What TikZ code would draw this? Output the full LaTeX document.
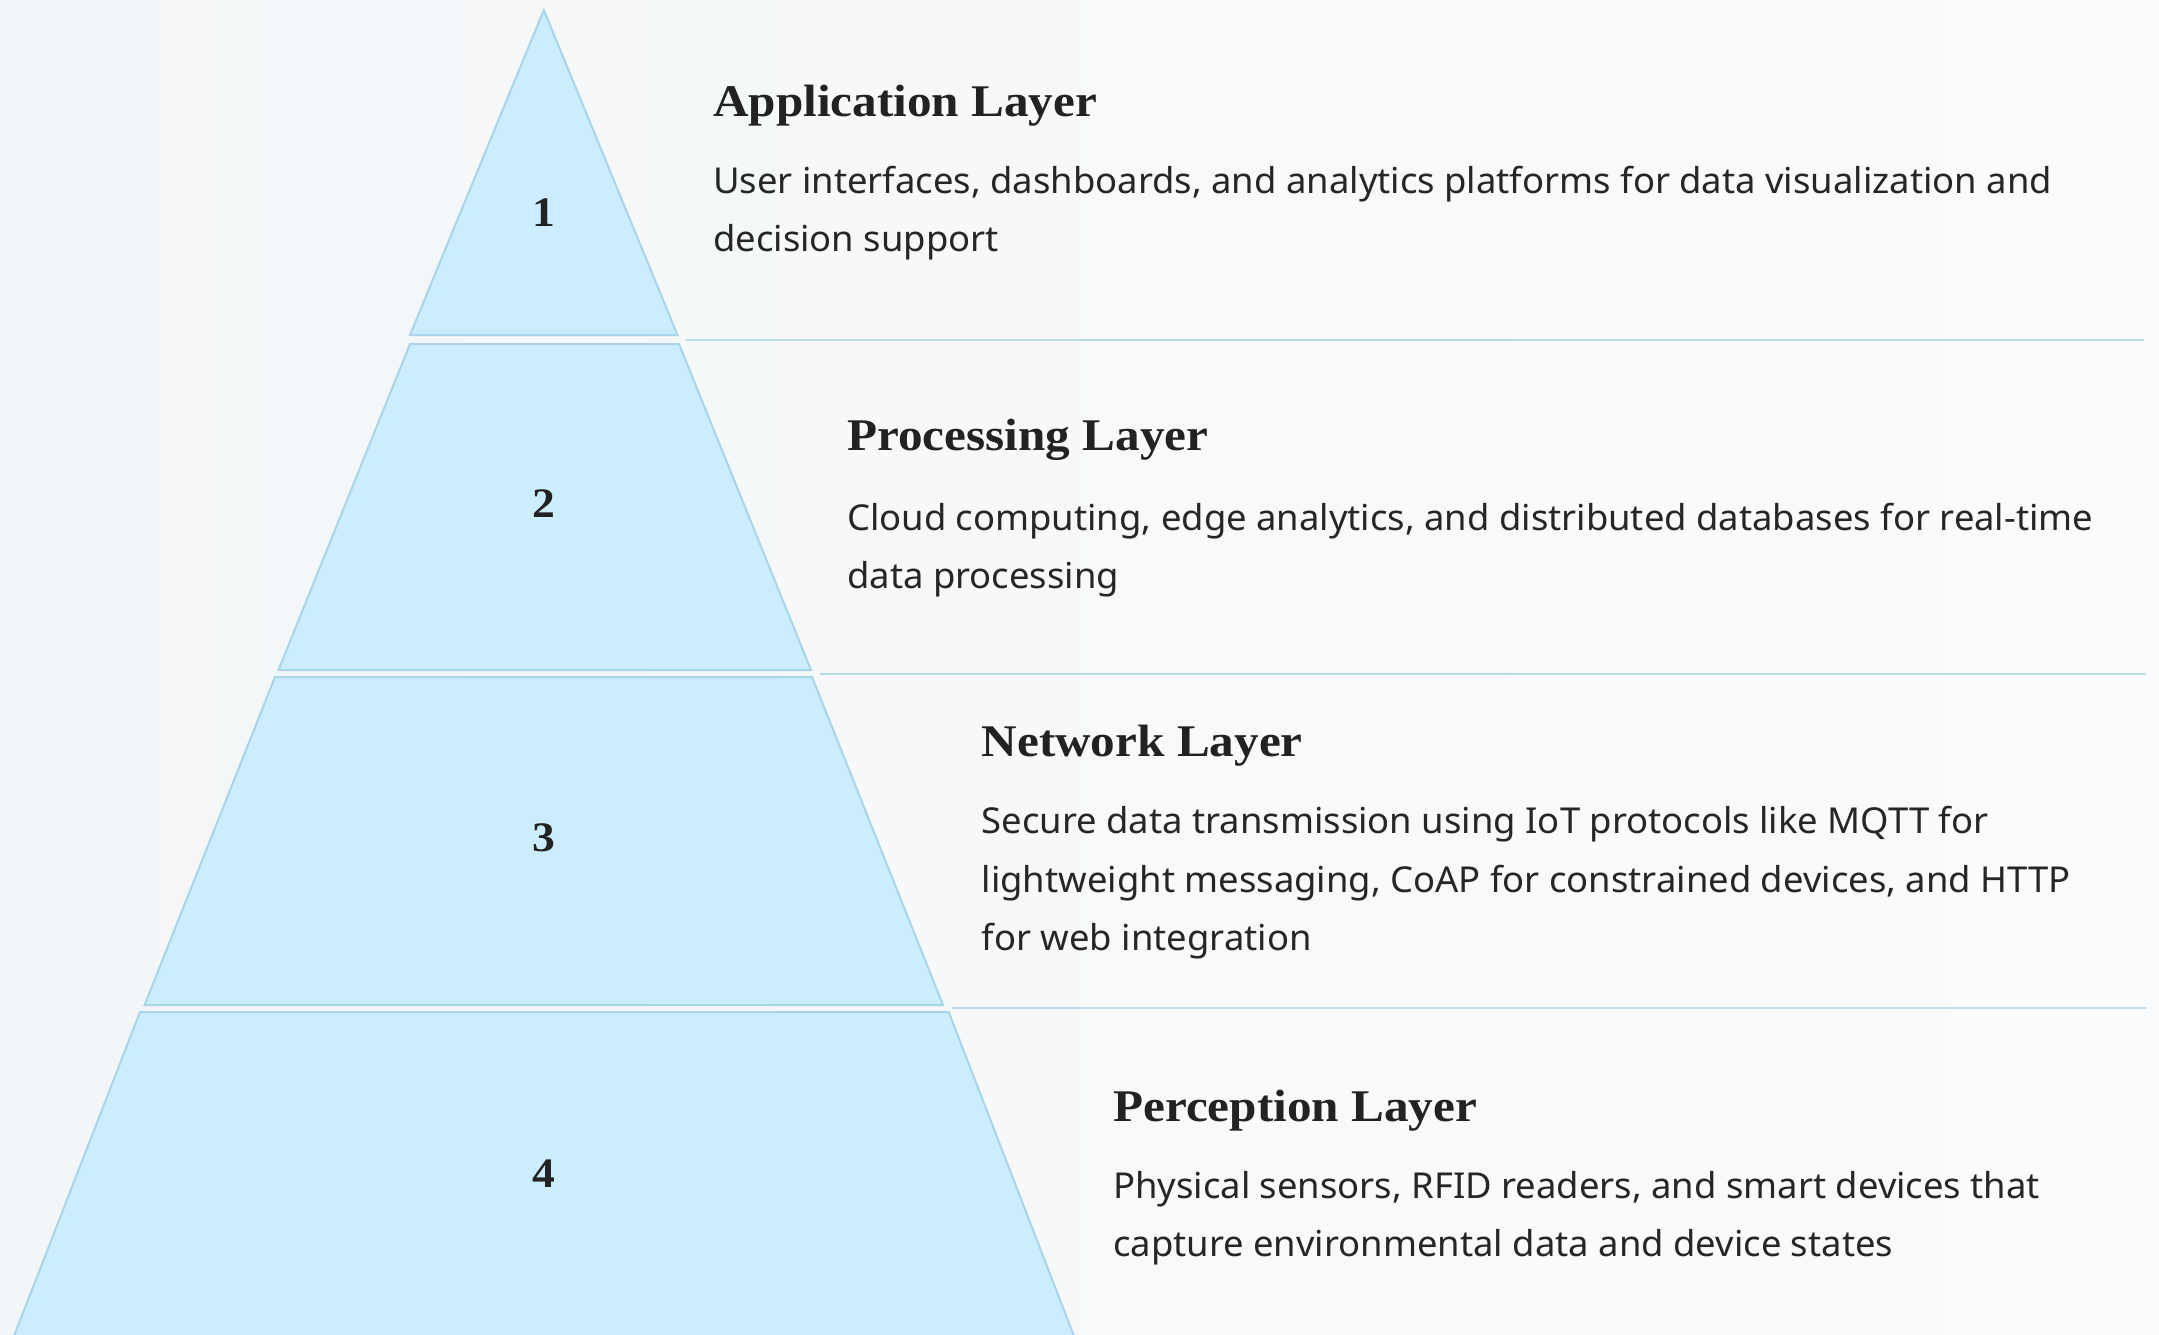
\documentclass[tikz,border=0pt]{standalone}
\usepackage{fontspec}
\newfontfamily\titlefont[FakeStretch=1.086]{Liberation Serif}
\newfontfamily\bodyfont[FakeStretch=1.02]{Noto Sans}
\definecolor{bgl}{HTML}{F3F6F8}
\definecolor{bgr}{HTML}{FAFBFC}
\definecolor{layerfill}{HTML}{CCEDFD}
\definecolor{layerdraw}{HTML}{A9D5EA}
\definecolor{sepcol}{HTML}{BADBEC}
\definecolor{inkdark}{HTML}{222222}
\definecolor{inkbody}{HTML}{262626}
\tikzset{
  layer/.style={fill=layerfill, draw=layerdraw, line width=2pt, line join=miter},
  sepline/.style={draw=sepcol, line width=2pt},
  num/.style={inner sep=0pt, anchor=base, text=inkdark, font=\titlefont\bfseries\fontsize{42}{46}\selectfont},
  ttl/.style={inner sep=0pt, anchor=base west, text=inkdark, font=\titlefont\bfseries\fontsize{45.3}{50}\selectfont},
  body/.style={inner sep=0pt, anchor=base west, text=inkbody, font=\bodyfont\fontsize{35.7}{40}\selectfont}
}
\begin{document}
\begin{tikzpicture}[x=1pt, y=-1pt]
\useasboundingbox (0,0) rectangle (2159,1334);
\fill[left color=bgl, right color=bgr] (0,0) rectangle (2159,1334);
% pyramid layers
\draw[layer] (543.8,10) -- (677.5,335) -- (410,335) -- cycle;
\draw[layer] (410,344) -- (679,344) -- (811,670) -- (278.5,670) -- cycle;
\draw[layer] (275,677) -- (812,677) -- (943,1005) -- (144.6,1005) -- cycle;
\draw[layer] (140,1012) -- (948.7,1012) -- (1074,1336) -- (14,1336) -- cycle;
% numbers
\node[num] (n1) at (544,226.7) {1};
\node[num] (n2) at (544,517) {2};
\node[num] (n3) at (544,851.5) {3};
\node[num] (n4) at (544,1187.5) {4};
% separators
\coordinate (s1a) at (686,340);  \coordinate (s1b) at (2144,340);
\coordinate (s2a) at (820,674);  \coordinate (s2b) at (2146,674);
\coordinate (s3a) at (952,1008); \coordinate (s3b) at (2146,1008);
\draw[sepline] (s1a) -- (s1b);
\draw[sepline] (s2a) -- (s2b);
\draw[sepline] (s3a) -- (s3b);
% layer 1
\node[ttl] (t1) at (713,116.7) {Application Layer};
\node[body] (b1a) at (713,193) {User interfaces, dashboards, and analytics platforms for data visualization and};
\node[body] (b1b) at (713,251.7) {decision support};
% layer 2
\node[ttl] (t2) at (847,450.7) {Processing Layer};
\node[body] (b2a) at (847,530) {Cloud computing, edge analytics, and distributed databases for real-time};
\node[body] (b2b) at (847,588.5) {data processing};
% layer 3
\node[ttl] (t3) at (981.5,756.7) {Network Layer};
\node[body] (b3a) at (981.5,833) {Secure data transmission using IoT protocols like MQTT for};
\node[body] (b3b) at (981.5,892) {lightweight messaging, CoAP for constrained devices, and HTTP};
\node[body] (b3c) at (981.5,950.5) {for web integration};
% layer 4
\node[ttl] (t4) at (1113,1121.7) {Perception Layer};
\node[body] (b4a) at (1113,1198.3) {Physical sensors, RFID readers, and smart devices that};
\node[body] (b4b) at (1113,1256.7) {capture environmental data and device states};
\end{tikzpicture}
\end{document}
